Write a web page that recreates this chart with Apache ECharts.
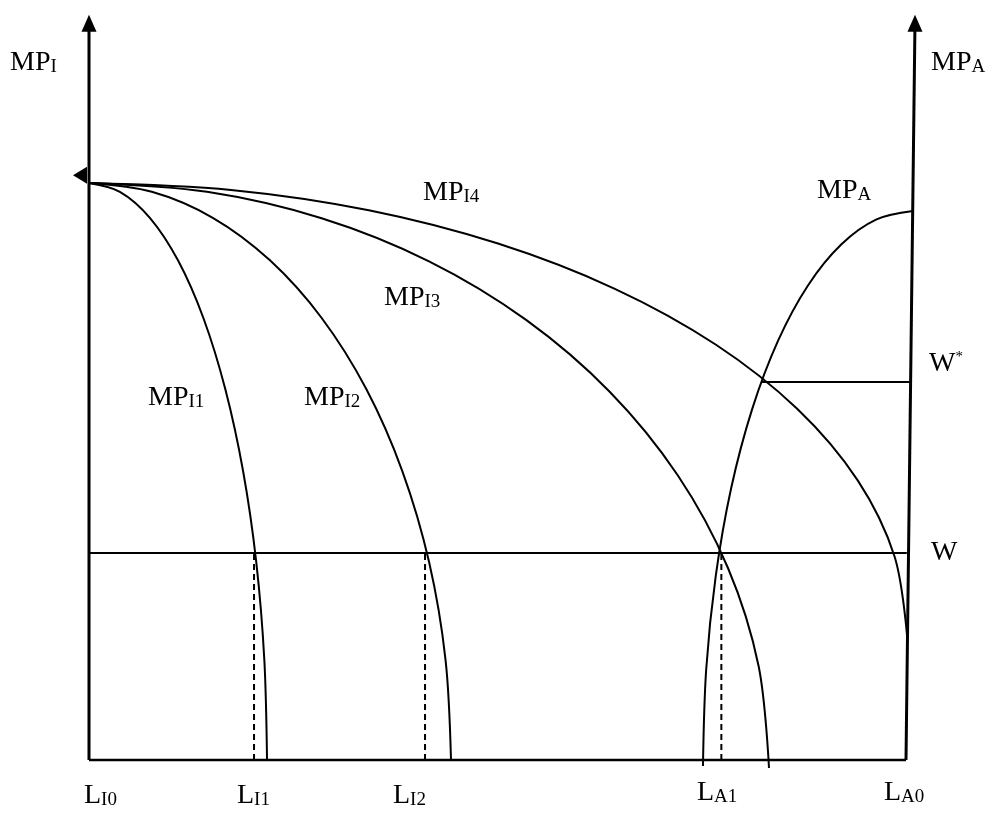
<!DOCTYPE html>
<html><head><meta charset="utf-8">
<script src="https://cdn.jsdelivr.net/npm/echarts@6/dist/echarts.min.js"></script>
<style>html,body{margin:0;padding:0;background:#fff}#c{width:988px;height:815px}</style>
</head><body><div id="c"></div>
<script>
// Data space: x 0..100 (L_I0 .. L_A0), y 0..100 (marginal product)
const curveMPI1 = [[0,77.45],[3.78,76.27],[7.45,72.78],[10.89,67.07],[14.00,59.33],[16.68,49.79],[18.87,38.72],[20.48,26.50],[21.46,13.45],[21.79,0]];
const curveMPI2 = [[0,77.45],[7.69,76.27],[15.15,72.78],[22.15,67.07],[28.48,59.33],[33.94,49.79],[38.37,38.72],[41.64,26.50],[43.64,13.45],[44.31,0]];
const curveMPI3 = [[0,77.45],[14.44,76.26],[28.47,72.71],[41.62,66.93],[53.50,59.07],[63.76,49.40],[72.08,38.19],[78.21,25.77],[81.97,12.56],[83.23,-1.07]];
const curveMPI4 = [[0,77.45],[17.38,76.52],[34.25,73.79],[50.06,69.32],[64.36,63.25],[76.70,55.77],[86.71,47.11],[94.09,37.53],[98.60,27.32],[100.12,16.78]];
const curveMPA = [[75.15,-0.81],[75.54,12.12],[76.71,24.67],[78.59,36.44],[81.16,47.07],[84.33,56.26],[88.00,63.70],[92.07,69.19],[96.39,72.56],[100.86,73.69]];
const wageW = 27.79;
const wageWStar = 50.74;
const wLineEndX = 100.1;
const wStarStartX = 82.25;
const wStarEndX = 100.6;
const dashedX = [20.20, 41.13, 77.40];
const leftAxisLine = [[0,0],[0,99]];
const bottomAxisLine = [[0,0],[100,0]];
const rightAxisLine = [[100,0],[101.1,99]];
const upArrows = [[0,98.9],[101.1,98.9]];
const leftMarker = [[-1.1,78.5]];
const bottomLabels = ['I0','I1','I2','A1','A0'];

const chart = echarts.init(document.getElementById('c'), null, {renderer:'canvas'});
const base = {type:'line', symbol:'none', clip:false, silent:true, smooth:false,
  lineStyle:{color:'#000', width:2}};
const series = [];
series.push(Object.assign({}, base, {data:leftAxisLine, lineStyle:{color:'#000', width:3}}));
series.push(Object.assign({}, base, {data:bottomAxisLine, lineStyle:{color:'#000', width:2.5}}));
series.push(Object.assign({}, base, {data:rightAxisLine, lineStyle:{color:'#000', width:3}}));
[curveMPI1, curveMPI2, curveMPI3, curveMPI4, curveMPA].forEach(c => {
  series.push(Object.assign({}, base, {data:c, smooth:0.33}));
});
series.push(Object.assign({}, base, {data:[[0,wageW],[wLineEndX,wageW]]}));
series.push(Object.assign({}, base, {data:[[wStarStartX,wageWStar],[wStarEndX,wageWStar]]}));
dashedX.forEach(x => {
  series.push(Object.assign({}, base, {data:[[x,0],[x,wageW]], lineStyle:{color:'#000', width:2, type:[6,4]}}));
});
series.push({type:'scatter', data:upArrows, symbol:'triangle', symbolSize:[15,17], itemStyle:{color:'#000', opacity:1}, silent:true, clip:false});
series.push({type:'scatter', data:leftMarker, symbol:'triangle', symbolRotate:90, symbolSize:[17,14], itemStyle:{color:'#000', opacity:1}, silent:true, clip:false});

const FF = '"Liberation Serif", "Times New Roman", serif';
const rich = {
  m:{fontFamily:FF, fontSize:28, color:'#000', verticalAlign:'bottom'},
  s:{fontFamily:FF, fontSize:19, color:'#000', verticalAlign:'bottom'},
  sup:{fontFamily:FF, fontSize:15, color:'#000', verticalAlign:'top'}
};
function lbl(main, sub, x, y){
  return {type:'text', x:x, y:y, silent:true,
    style:{text:'{m|'+main+'}{s|'+sub+'}', rich:rich, textVerticalAlign:'bottom', textAlign:'left'}};
}
const graphics = [
  lbl('MP','I',10,77),
  lbl('MP','A',931,77),
  lbl('MP','I4',423,207),
  lbl('MP','A',817,205),
  lbl('MP','I3',384,312),
  lbl('MP','I1',148,412),
  lbl('MP','I2',304,412),
  {type:'text', x:929, y:378, silent:true, style:{text:'{m|W}{sup|*}', rich:rich, textVerticalAlign:'bottom'}},
  {type:'text', x:931, y:567, silent:true, style:{text:'{m|W}', rich:rich, textVerticalAlign:'bottom'}},
  lbl('L',bottomLabels[0],84,810),
  lbl('L',bottomLabels[1],237,810),
  lbl('L',bottomLabels[2],393,810),
  lbl('L',bottomLabels[3],697,807),
  lbl('L',bottomLabels[4],884,807)
];

chart.setOption({
  animation:false,
  backgroundColor:'#fff',
  grid:{left:64.49, top:15, width:866.02, height:767.35},
  xAxis:{type:'value', min:-3, max:103, show:false},
  yAxis:{type:'value', min:-3, max:100, show:false},
  series:series,
  graphic:graphics
});
</script></body></html>
